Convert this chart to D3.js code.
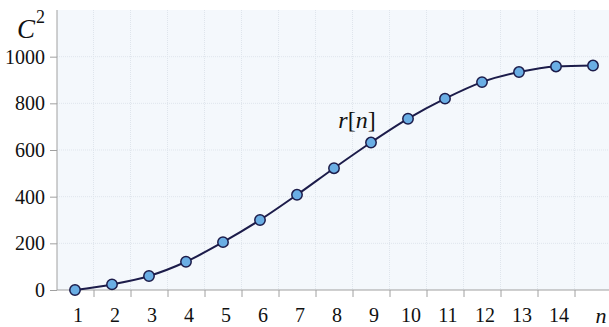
<!DOCTYPE html>
<html><head><meta charset="utf-8">
<script src="https://cdn.jsdelivr.net/npm/d3@7"></script>
<style>body{margin:0;background:#fff}svg{display:block}</style>
</head><body>
<script>
const nValues = [1,2,3,4,5,6,7,8,9,10,11,12,13,14,15];
const rValues = [0,24,60,121,205,300,408,522,632,734,820,891,934,958,962];
const xTickLabels = ["1","2","3","4","5","6","7","8","9","10","11","12","13","14"];
const yTicks = [0,200,400,600,800,1000];
const yGrid = [200,400,600,800,1000];

const W=609,H=327;
const FONT="'Liberation Serif','Times New Roman',serif";
const svg=d3.select("body").append("svg").attr("width",W).attr("height",H);
const pL=57, pT=10, pB=290, pR=609;
const x=d3.scaleLinear().domain([1,15]).range([75,593]);
const y=d3.scaleLinear().domain([0,1200]).range([pB,pT]);

svg.append("rect").attr("x",pL).attr("y",pT).attr("width",pR-pL).attr("height",pB-pT).attr("fill","#f4f8fc");

const gridX = nValues.slice(0,14).map(d=>d+0.5);
svg.append("g").selectAll("line").data(gridX).join("line")
  .attr("x1",d=>x(d)).attr("x2",d=>x(d)).attr("y1",pT).attr("y2",pB)
  .attr("stroke","#dfe5ec").attr("stroke-width",1).attr("stroke-dasharray","1,1");
svg.append("g").selectAll("line").data(yGrid).join("line")
  .attr("x1",pL).attr("x2",pR).attr("y1",d=>y(d)).attr("y2",d=>y(d))
  .attr("stroke","#dfe5ec").attr("stroke-width",1).attr("stroke-dasharray","1,1");

// y axis
const yAxis=d3.axisLeft(y).tickValues(yTicks).tickSize(7).tickPadding(5).tickFormat(d3.format("d"));
const gy=svg.append("g").attr("transform",`translate(${pL},0)`).call(yAxis);
gy.select(".domain").attr("d",`M-0,${pT}V${pB}`).attr("stroke","#a0a0a0");
gy.selectAll(".tick line").attr("stroke","#a0a0a0");
gy.selectAll(".tick text").attr("font-family",FONT).attr("font-size",20).attr("fill","#111");

// x axis
const xAxis=d3.axisBottom(x).tickValues(gridX).tickSize(7).tickFormat("");
const gx=svg.append("g").attr("transform",`translate(0,${pB})`).call(xAxis);
gx.select(".domain").attr("d",`M${pL},0H${pR}`).attr("stroke","#a0a0a0");
gx.selectAll(".tick line").attr("stroke","#a0a0a0");
svg.append("g").selectAll("text").data(xTickLabels).join("text")
  .attr("x",(d,i)=>x(nValues[i])+3).attr("y",322)
  .attr("text-anchor","middle").attr("font-family",FONT).attr("font-size",20).attr("fill","#111")
  .text(d=>d);
svg.append("text").attr("x",601).attr("y",323).attr("text-anchor","middle")
  .attr("font-family",FONT).attr("font-style","italic").attr("font-size",22).attr("fill","#111").text("n");

// y label C^2
const yl=svg.append("text").attr("x",17).attr("y",38).attr("font-family",FONT).attr("fill","#111");
yl.append("tspan").attr("font-style","italic").attr("font-size",27).text("C");
yl.append("tspan").attr("font-size",18).attr("dy",-15).attr("dx",1).text("2");

// line
svg.append("path").datum(nValues.map((n,i)=>[n,rValues[i]]))
  .attr("fill","none").attr("stroke","#1c1c4a").attr("stroke-width",2)
  .attr("d",d3.line().x(d=>x(d[0])).y(d=>y(d[1])).curve(d3.curveMonotoneX));
svg.append("g").selectAll("circle").data(nValues).join("circle")
  .attr("cx",d=>x(d)).attr("cy",(d,i)=>y(rValues[i])).attr("r",5.2)
  .attr("fill","#6aaee4").attr("stroke","#1c1c4a").attr("stroke-width",1.5);

// series label r[n]
const rl=svg.append("text").attr("x",357).attr("y",128).attr("text-anchor","middle")
  .attr("font-family",FONT).attr("font-size",24).attr("fill","#111");
rl.append("tspan").attr("font-style","italic").text("r");
rl.append("tspan").text("[");
rl.append("tspan").attr("font-style","italic").text("n");
rl.append("tspan").text("]");
</script>
</body></html>
